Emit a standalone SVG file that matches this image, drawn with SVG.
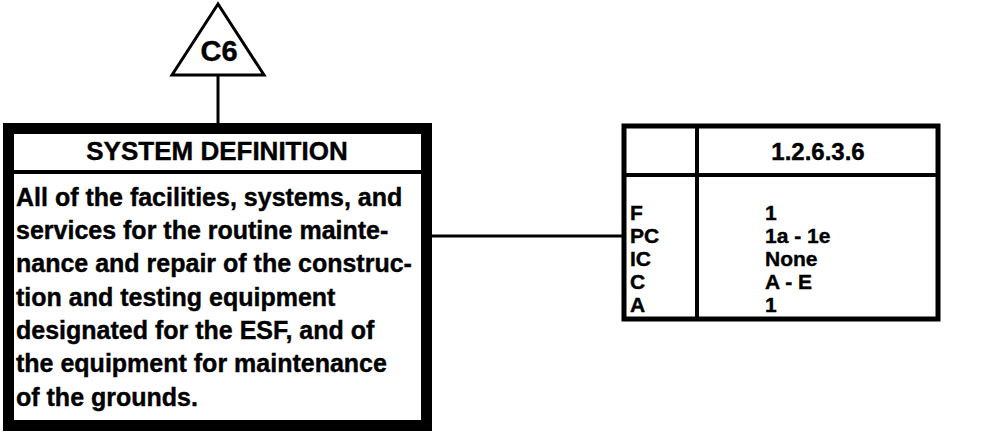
<svg xmlns="http://www.w3.org/2000/svg" width="1004" height="432" viewBox="0 0 1004 432">
<style>
text{font-family:"Liberation Sans",Arial,sans-serif;font-weight:bold;fill:#000;stroke:#000;stroke-width:0.4}
.ln{stroke:#000;fill:none}
.body{font-size:25px}
.title{font-size:26px}
.tab{font-size:21px}
</style>
<rect width="1004" height="432" fill="#fff"/>
<g id="connectors">
<line class="ln" x1="218" y1="75" x2="218" y2="124" stroke-width="3"/>
<line class="ln" x1="432" y1="236" x2="622" y2="236" stroke-width="3"/>
</g>
<g id="c6">
<polygon points="218,4 172,75 264,75" fill="#fff" stroke="#000" stroke-width="3" stroke-linejoin="miter"/>
<text x="219" y="61" text-anchor="middle" style="font-size:29px">C6</text>
</g>
<g id="system-definition">
<rect x="8.5" y="128.5" width="418" height="297" fill="#fff" stroke="#000" stroke-width="11"/>
<line class="ln" x1="14" y1="172" x2="421" y2="172" stroke-width="4"/>
<text class="title" x="217" y="160" text-anchor="middle">SYSTEM DEFINITION</text>
<text class="body" x="16" y="206">All of the facilities, systems, and</text>
<text class="body" x="16" y="239">services for the routine mainte-</text>
<text class="body" x="16" y="272">nance and repair of the construc-</text>
<text class="body" x="16" y="306">tion and testing equipment</text>
<text class="body" x="16" y="339">designated for the ESF, and of</text>
<text class="body" x="16" y="372">the equipment for maintenance</text>
<text class="body" x="16" y="406">of the grounds.</text>
</g>
<g id="table">
<rect x="624" y="126" width="314" height="193" fill="#fff" stroke="#000" stroke-width="5"/>
<line class="ln" x1="697" y1="126" x2="697" y2="319" stroke-width="4"/>
<line class="ln" x1="624" y1="175" x2="938" y2="175" stroke-width="4"/>
<text x="818" y="160" text-anchor="middle" style="font-size:24px">1.2.6.3.6</text>
<text class="tab" x="630" y="220">F</text>
<text class="tab" x="630" y="243">PC</text>
<text class="tab" x="630" y="266">IC</text>
<text class="tab" x="630" y="289">C</text>
<text class="tab" x="630" y="312">A</text>
<text class="tab" x="765" y="220">1</text>
<text class="tab" x="765" y="243">1a - 1e</text>
<text class="tab" x="765" y="266">None</text>
<text class="tab" x="765" y="289">A - E</text>
<text class="tab" x="765" y="312">1</text>
</g>
</svg>
